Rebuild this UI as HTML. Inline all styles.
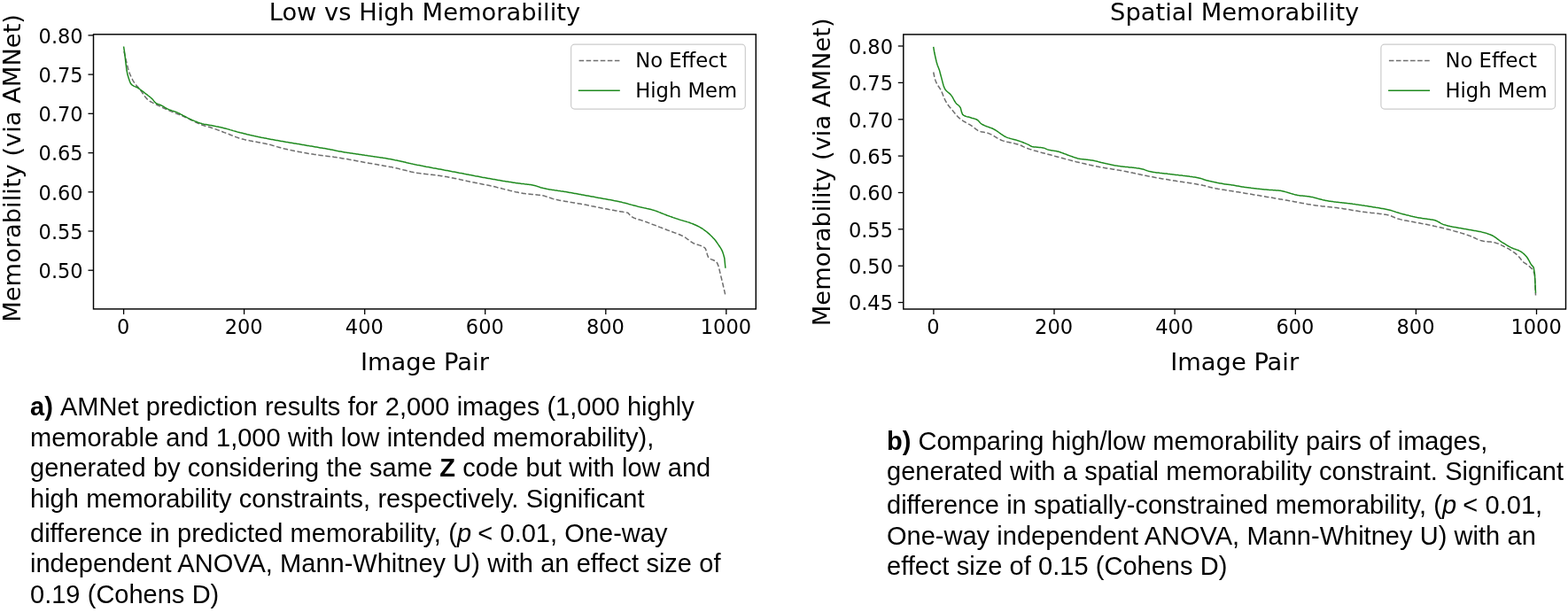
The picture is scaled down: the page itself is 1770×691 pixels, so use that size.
<!DOCTYPE html>
<html><head><meta charset="utf-8"><title>AMNet memorability figure</title>
<style>
html,body{margin:0;padding:0;background:#fff;}
body{width:1770px;height:691px;position:relative;overflow:hidden;}
svg{position:absolute;left:0;top:0;}
.tk{font-family:"DejaVu Sans",sans-serif;font-size:22.5px;fill:#000;}
.lg{font-family:"DejaVu Sans",sans-serif;font-size:22.7px;fill:#000;}
.lb{font-family:"DejaVu Sans",sans-serif;font-size:27.3px;fill:#000;}
.cap{position:absolute;white-space:nowrap;font-family:"Liberation Sans",Arial,Helvetica,sans-serif;font-size:29px;line-height:34px;color:#000;word-spacing:0.25px;}
.cap b{font-weight:bold;}
.rel{margin:0 2.6px 0 0.6px;}
.cap i{margin-right:0.8px;}
.sp{margin-right:-0.2px;}
</style></head><body>
<svg width="1770" height="440" viewBox="0 0 1770 440">
<polyline points="140.0,58.0 141.1,63.2 142.3,68.1 143.4,72.8 144.5,77.3 145.7,81.0 146.8,84.0 147.9,86.7 149.1,89.0 150.2,91.1 151.3,92.9 152.5,94.5 153.6,95.9 154.7,97.2 155.9,98.5 157.0,99.8 158.1,101.2 159.3,102.8 160.4,104.4 161.5,106.0 162.7,107.7 163.8,109.2 164.9,110.6 166.1,111.9 167.2,112.9 168.3,113.7 169.5,114.5 170.6,115.1 171.7,115.7 172.9,116.3 174.0,116.8 175.1,117.3 176.3,117.9 177.4,118.5 178.5,119.0 179.7,119.6 180.8,120.2 181.9,120.7 183.1,121.3 184.2,121.8 185.3,122.4 186.5,122.9 187.6,123.4 188.7,123.9 189.9,124.4 191.0,124.9 192.1,125.4 193.3,125.9 194.4,126.3 195.5,126.8 196.7,127.2 197.8,127.7 198.9,128.1 200.1,128.5 201.2,129.0 202.3,129.4 203.5,129.9 204.6,130.3 205.7,130.8 206.9,131.2 208.0,131.7 209.1,132.2 210.3,132.7 211.4,133.3 212.5,133.8 213.7,134.4 214.8,135.0 215.9,135.6 217.1,136.1 218.2,136.7 219.3,137.3 220.5,137.9 221.6,138.4 222.7,138.9 223.9,139.4 225.0,139.9 226.1,140.4 227.3,140.8 228.4,141.2 229.5,141.6 230.7,141.9 231.8,142.2 232.9,142.5 234.1,142.9 235.2,143.2 236.3,143.5 237.5,143.8 238.6,144.2 239.7,144.5 240.9,144.9 242.0,145.3 243.1,145.7 244.3,146.1 245.4,146.6 246.5,147.0 247.7,147.4 248.8,147.9 249.9,148.3 251.1,148.7 252.2,149.2 253.3,149.6 254.5,150.0 255.6,150.5 256.7,150.9 257.9,151.3 259.0,151.8 260.1,152.2 261.3,152.7 262.4,153.1 263.5,153.6 264.7,154.0 265.8,154.5 266.9,154.9 268.1,155.3 269.2,155.7 270.3,156.1 271.5,156.4 272.6,156.7 273.7,157.1 274.9,157.3 276.0,157.6 277.1,157.9 278.3,158.1 279.4,158.4 280.5,158.6 281.7,158.8 282.8,159.1 283.9,159.3 285.1,159.5 286.2,159.7 287.3,159.9 288.5,160.1 289.6,160.3 290.7,160.5 291.9,160.7 293.0,160.9 294.1,161.1 295.3,161.3 296.4,161.5 297.5,161.8 298.7,162.0 299.8,162.2 300.9,162.5 302.1,162.8 303.2,163.0 304.3,163.3 305.5,163.6 306.6,163.9 307.7,164.3 308.9,164.6 310.0,164.9 311.1,165.2 312.3,165.6 313.4,165.9 314.5,166.2 315.7,166.5 316.8,166.8 317.9,167.1 319.1,167.4 320.2,167.7 321.3,168.0 322.5,168.2 323.6,168.5 324.7,168.8 325.9,169.0 327.0,169.3 328.1,169.5 329.3,169.8 330.4,170.0 331.5,170.2 332.7,170.5 333.8,170.7 334.9,170.9 336.1,171.1 337.2,171.4 338.3,171.6 339.5,171.8 340.6,172.0 341.7,172.2 342.9,172.4 344.0,172.6 345.1,172.8 346.3,173.0 347.4,173.2 348.5,173.4 349.7,173.6 350.8,173.8 351.9,173.9 353.1,174.1 354.2,174.3 355.3,174.4 356.5,174.6 357.6,174.8 358.7,174.9 359.9,175.1 361.0,175.2 362.1,175.4 363.3,175.5 364.4,175.7 365.5,175.8 366.7,175.9 367.8,176.1 368.9,176.2 370.1,176.4 371.2,176.5 372.3,176.7 373.5,176.8 374.6,177.0 375.7,177.1 376.9,177.3 378.0,177.4 379.1,177.6 380.3,177.8 381.4,177.9 382.5,178.1 383.7,178.3 384.8,178.5 385.9,178.7 387.1,178.9 388.2,179.1 389.3,179.2 390.5,179.4 391.6,179.6 392.7,179.8 393.9,180.1 395.0,180.3 396.1,180.5 397.3,180.7 398.4,180.9 399.5,181.1 400.7,181.3 401.8,181.5 402.9,181.7 404.1,181.9 405.2,182.2 406.3,182.4 407.5,182.6 408.6,182.8 409.7,183.0 410.9,183.2 412.0,183.4 413.1,183.6 414.3,183.8 415.4,184.0 416.5,184.2 417.7,184.4 418.8,184.6 419.9,184.8 421.1,185.0 422.2,185.2 423.3,185.4 424.5,185.6 425.6,185.8 426.7,186.0 427.9,186.2 429.0,186.4 430.1,186.6 431.3,186.8 432.4,187.0 433.5,187.2 434.7,187.4 435.8,187.6 436.9,187.8 438.1,188.0 439.2,188.2 440.3,188.4 441.5,188.6 442.6,188.8 443.7,189.1 444.9,189.3 446.0,189.6 447.1,189.8 448.3,190.1 449.4,190.3 450.5,190.6 451.7,190.9 452.8,191.2 453.9,191.5 455.1,191.8 456.2,192.1 457.3,192.3 458.5,192.6 459.6,192.9 460.7,193.2 461.9,193.5 463.0,193.7 464.1,194.0 465.3,194.2 466.4,194.4 467.5,194.7 468.7,194.9 469.8,195.1 470.9,195.3 472.1,195.4 473.2,195.6 474.3,195.7 475.5,195.9 476.6,196.0 477.7,196.2 478.9,196.3 480.0,196.4 481.2,196.6 482.3,196.7 483.4,196.8 484.6,196.9 485.7,197.1 486.8,197.2 488.0,197.3 489.1,197.5 490.2,197.6 491.4,197.7 492.5,197.9 493.6,198.0 494.8,198.2 495.9,198.3 497.0,198.5 498.2,198.7 499.3,198.8 500.4,199.0 501.6,199.2 502.7,199.4 503.8,199.6 505.0,199.8 506.1,200.0 507.2,200.2 508.4,200.5 509.5,200.7 510.6,200.9 511.8,201.1 512.9,201.4 514.0,201.6 515.2,201.8 516.3,202.1 517.4,202.3 518.6,202.5 519.7,202.8 520.8,203.0 522.0,203.3 523.1,203.5 524.2,203.8 525.4,204.0 526.5,204.2 527.6,204.5 528.8,204.7 529.9,205.0 531.0,205.2 532.2,205.4 533.3,205.7 534.4,205.9 535.6,206.1 536.7,206.4 537.8,206.6 539.0,206.8 540.1,207.1 541.2,207.3 542.4,207.5 543.5,207.7 544.6,207.9 545.8,208.2 546.9,208.4 548.0,208.6 549.2,208.8 550.3,209.1 551.4,209.3 552.6,209.5 553.7,209.8 554.8,210.0 556.0,210.3 557.1,210.6 558.2,210.8 559.4,211.1 560.5,211.4 561.6,211.7 562.8,212.0 563.9,212.2 565.0,212.5 566.2,212.8 567.3,213.1 568.4,213.4 569.6,213.7 570.7,214.0 571.8,214.3 573.0,214.5 574.1,214.8 575.2,215.1 576.4,215.4 577.5,215.6 578.6,215.9 579.8,216.2 580.9,216.4 582.0,216.7 583.2,216.9 584.3,217.1 585.4,217.4 586.6,217.6 587.7,217.8 588.8,218.0 590.0,218.2 591.1,218.4 592.2,218.5 593.4,218.7 594.5,218.8 595.6,219.0 596.8,219.1 597.9,219.2 599.0,219.3 600.2,219.4 601.3,219.5 602.4,219.6 603.6,219.7 604.7,219.8 605.8,219.9 607.0,220.1 608.1,220.2 609.2,220.3 610.4,220.5 611.5,220.7 612.6,220.8 613.8,221.1 614.9,221.4 616.0,221.7 617.2,222.1 618.3,222.4 619.4,222.8 620.6,223.2 621.7,223.6 622.8,224.0 624.0,224.4 625.1,224.7 626.2,225.0 627.4,225.2 628.5,225.5 629.6,225.7 630.8,226.0 631.9,226.2 633.0,226.4 634.2,226.6 635.3,226.8 636.4,227.0 637.6,227.2 638.7,227.4 639.8,227.6 641.0,227.8 642.1,228.0 643.2,228.2 644.4,228.4 645.5,228.6 646.6,228.7 647.8,228.9 648.9,229.1 650.0,229.3 651.2,229.5 652.3,229.7 653.4,229.9 654.6,230.1 655.7,230.3 656.8,230.5 658.0,230.7 659.1,230.9 660.2,231.1 661.4,231.3 662.5,231.5 663.6,231.7 664.8,232.0 665.9,232.2 667.0,232.4 668.2,232.7 669.3,232.9 670.4,233.1 671.6,233.4 672.7,233.6 673.8,233.8 675.0,234.1 676.1,234.3 677.2,234.5 678.4,234.7 679.5,235.0 680.6,235.2 681.8,235.4 682.9,235.6 684.0,235.8 685.2,236.0 686.3,236.2 687.4,236.5 688.6,236.7 689.7,236.9 690.8,237.1 692.0,237.3 693.1,237.5 694.2,237.7 695.4,237.9 696.5,238.1 697.6,238.3 698.8,238.6 699.9,238.8 701.0,239.0 702.2,239.1 703.3,239.3 704.4,239.4 705.6,239.6 706.7,239.8 707.8,240.1 709.0,240.5 710.1,241.6 711.2,243.4 712.4,244.2 713.5,244.9 714.6,245.5 715.8,246.1 716.9,246.5 718.0,247.0 719.2,247.3 720.3,247.7 721.4,248.0 722.6,248.3 723.7,248.6 724.8,249.0 726.0,249.3 727.1,249.7 728.2,250.1 729.4,250.5 730.5,251.0 731.6,251.4 732.8,251.9 733.9,252.3 735.0,252.7 736.2,253.2 737.3,253.6 738.4,254.0 739.6,254.4 740.7,254.9 741.8,255.3 743.0,255.7 744.1,256.2 745.2,256.6 746.4,257.0 747.5,257.5 748.6,257.9 749.8,258.4 750.9,258.8 752.0,259.2 753.2,259.7 754.3,260.1 755.4,260.5 756.6,261.0 757.7,261.4 758.8,261.8 760.0,262.2 761.1,262.6 762.2,263.0 763.4,263.4 764.5,263.9 765.6,264.3 766.8,264.8 767.9,265.3 769.0,265.8 770.2,266.3 771.3,266.9 772.4,267.5 773.6,268.2 774.7,269.0 775.8,269.8 777.0,270.6 778.1,271.5 779.2,272.3 780.4,273.1 781.5,273.9 782.6,274.5 783.8,275.1 784.9,275.5 786.0,275.9 787.2,276.2 788.3,276.5 789.4,276.9 790.6,277.2 791.7,277.6 792.8,278.1 794.0,278.7 795.1,279.5 796.2,280.5 797.4,283.5 798.5,287.7 799.6,290.5 800.8,291.6 801.9,292.4 803.0,292.9 804.2,293.3 805.3,293.7 806.4,294.2 807.6,294.9 808.7,295.8 809.8,297.4 811.0,300.5 812.1,304.7 813.2,309.5 814.4,314.3 815.5,318.8 816.6,323.5 817.8,328.6 818.9,333.8" fill="none" stroke="#6e6e6e" stroke-width="1.5" stroke-dasharray="5.55 2.5"/>
<polyline points="139.6,52.5 140.7,59.8 141.9,70.3 143.0,79.5 144.1,84.6 145.3,88.4 146.4,91.8 147.5,94.3 148.7,95.6 149.8,96.4 150.9,97.1 152.1,97.6 153.2,98.0 154.3,98.5 155.5,99.2 156.6,99.9 157.7,100.7 158.9,101.5 160.0,102.4 161.1,103.2 162.3,104.1 163.4,105.0 164.5,105.9 165.7,106.7 166.8,107.6 168.0,108.5 169.1,109.3 170.2,110.3 171.4,111.3 172.5,112.4 173.6,113.9 174.8,115.3 175.9,116.3 177.0,117.0 178.2,117.5 179.3,117.9 180.4,118.3 181.6,118.8 182.7,119.3 183.8,119.9 185.0,120.6 186.1,121.3 187.2,122.0 188.4,122.6 189.5,123.2 190.6,123.7 191.8,124.1 192.9,124.5 194.0,124.9 195.2,125.3 196.3,125.6 197.4,126.0 198.6,126.4 199.7,126.9 200.8,127.4 202.0,127.9 203.1,128.5 204.2,129.1 205.4,129.7 206.5,130.3 207.6,130.9 208.8,131.5 209.9,132.1 211.0,132.7 212.2,133.3 213.3,133.9 214.4,134.4 215.6,135.0 216.7,135.5 217.8,135.9 219.0,136.4 220.1,136.9 221.3,137.3 222.4,137.8 223.5,138.2 224.7,138.6 225.8,139.0 226.9,139.3 228.1,139.7 229.2,139.9 230.3,140.2 231.5,140.4 232.6,140.6 233.7,140.8 234.9,141.0 236.0,141.2 237.1,141.4 238.3,141.6 239.4,141.8 240.5,142.0 241.7,142.2 242.8,142.4 243.9,142.7 245.1,142.9 246.2,143.1 247.3,143.4 248.5,143.6 249.6,143.9 250.7,144.1 251.9,144.4 253.0,144.7 254.1,145.0 255.3,145.3 256.4,145.6 257.5,145.9 258.7,146.2 259.8,146.6 260.9,146.9 262.1,147.2 263.2,147.6 264.3,147.9 265.5,148.2 266.6,148.5 267.7,148.9 268.9,149.2 270.0,149.5 271.2,149.8 272.3,150.0 273.4,150.3 274.6,150.6 275.7,150.9 276.8,151.1 278.0,151.4 279.1,151.7 280.2,151.9 281.4,152.2 282.5,152.5 283.6,152.7 284.8,153.0 285.9,153.2 287.0,153.5 288.2,153.7 289.3,154.0 290.4,154.2 291.6,154.5 292.7,154.7 293.8,154.9 295.0,155.2 296.1,155.4 297.2,155.6 298.4,155.9 299.5,156.1 300.6,156.3 301.8,156.6 302.9,156.8 304.0,157.0 305.2,157.2 306.3,157.4 307.4,157.6 308.6,157.8 309.7,158.0 310.8,158.2 312.0,158.4 313.1,158.6 314.2,158.8 315.4,159.0 316.5,159.2 317.6,159.4 318.8,159.6 319.9,159.8 321.0,160.0 322.2,160.2 323.3,160.4 324.5,160.6 325.6,160.8 326.7,161.0 327.9,161.2 329.0,161.3 330.1,161.5 331.3,161.7 332.4,161.9 333.5,162.1 334.7,162.3 335.8,162.5 336.9,162.6 338.1,162.8 339.2,163.0 340.3,163.2 341.5,163.4 342.6,163.6 343.7,163.8 344.9,164.0 346.0,164.2 347.1,164.4 348.3,164.6 349.4,164.8 350.5,164.9 351.7,165.1 352.8,165.3 353.9,165.5 355.1,165.7 356.2,165.9 357.3,166.1 358.5,166.3 359.6,166.5 360.7,166.7 361.9,166.9 363.0,167.0 364.1,167.2 365.3,167.4 366.4,167.6 367.5,167.8 368.7,168.0 369.8,168.2 370.9,168.4 372.1,168.6 373.2,168.9 374.3,169.1 375.5,169.3 376.6,169.5 377.8,169.7 378.9,170.0 380.0,170.2 381.2,170.5 382.3,170.7 383.4,170.9 384.6,171.1 385.7,171.3 386.8,171.5 388.0,171.7 389.1,171.9 390.2,172.1 391.4,172.2 392.5,172.4 393.6,172.6 394.8,172.8 395.9,173.0 397.0,173.1 398.2,173.3 399.3,173.5 400.4,173.6 401.6,173.8 402.7,174.0 403.8,174.1 405.0,174.3 406.1,174.5 407.2,174.6 408.4,174.8 409.5,175.0 410.6,175.1 411.8,175.3 412.9,175.4 414.0,175.6 415.2,175.8 416.3,175.9 417.4,176.1 418.6,176.2 419.7,176.4 420.8,176.6 422.0,176.7 423.1,176.9 424.2,177.1 425.4,177.2 426.5,177.4 427.7,177.6 428.8,177.7 429.9,177.9 431.1,178.1 432.2,178.3 433.3,178.5 434.5,178.6 435.6,178.8 436.7,179.0 437.9,179.2 439.0,179.4 440.1,179.6 441.3,179.8 442.4,180.0 443.5,180.2 444.7,180.4 445.8,180.7 446.9,180.9 448.1,181.1 449.2,181.4 450.3,181.6 451.5,181.9 452.6,182.1 453.7,182.4 454.9,182.6 456.0,182.9 457.1,183.1 458.3,183.4 459.4,183.7 460.5,183.9 461.7,184.2 462.8,184.4 463.9,184.7 465.1,184.9 466.2,185.2 467.3,185.4 468.5,185.7 469.6,185.9 470.7,186.2 471.9,186.4 473.0,186.6 474.1,186.8 475.3,187.1 476.4,187.3 477.5,187.5 478.7,187.7 479.8,187.9 481.0,188.2 482.1,188.4 483.2,188.6 484.4,188.8 485.5,189.0 486.6,189.2 487.8,189.4 488.9,189.7 490.0,189.9 491.2,190.1 492.3,190.3 493.4,190.5 494.6,190.7 495.7,190.9 496.8,191.1 498.0,191.3 499.1,191.5 500.2,191.7 501.4,192.0 502.5,192.2 503.6,192.4 504.8,192.6 505.9,192.8 507.0,193.0 508.2,193.2 509.3,193.4 510.4,193.7 511.6,193.9 512.7,194.1 513.8,194.3 515.0,194.5 516.1,194.7 517.2,194.9 518.4,195.2 519.5,195.4 520.6,195.6 521.8,195.8 522.9,196.0 524.0,196.3 525.2,196.5 526.3,196.7 527.4,196.9 528.6,197.1 529.7,197.4 530.8,197.6 532.0,197.8 533.1,198.0 534.3,198.2 535.4,198.4 536.5,198.7 537.7,198.9 538.8,199.1 539.9,199.3 541.1,199.5 542.2,199.7 543.3,199.9 544.5,200.2 545.6,200.4 546.7,200.6 547.9,200.8 549.0,201.0 550.1,201.2 551.3,201.4 552.4,201.6 553.5,201.8 554.7,202.0 555.8,202.2 556.9,202.4 558.1,202.6 559.2,202.8 560.3,203.0 561.5,203.2 562.6,203.4 563.7,203.6 564.9,203.8 566.0,204.0 567.1,204.2 568.3,204.4 569.4,204.5 570.5,204.7 571.7,204.9 572.8,205.1 573.9,205.3 575.1,205.5 576.2,205.6 577.3,205.8 578.5,206.0 579.6,206.2 580.7,206.3 581.9,206.5 583.0,206.7 584.2,206.8 585.3,207.0 586.4,207.1 587.6,207.2 588.7,207.4 589.8,207.5 591.0,207.6 592.1,207.8 593.2,207.9 594.4,208.0 595.5,208.2 596.6,208.3 597.8,208.4 598.9,208.6 600.0,208.8 601.2,209.0 602.3,209.2 603.4,209.4 604.6,209.7 605.7,210.1 606.8,210.5 608.0,210.9 609.1,211.3 610.2,211.7 611.4,212.0 612.5,212.3 613.6,212.6 614.8,212.8 615.9,213.0 617.0,213.3 618.2,213.5 619.3,213.7 620.4,213.9 621.6,214.1 622.7,214.2 623.8,214.4 625.0,214.6 626.1,214.8 627.2,214.9 628.4,215.1 629.5,215.3 630.6,215.4 631.8,215.6 632.9,215.8 634.0,215.9 635.2,216.1 636.3,216.3 637.5,216.5 638.6,216.6 639.7,216.8 640.9,217.0 642.0,217.2 643.1,217.4 644.3,217.6 645.4,217.8 646.5,218.0 647.7,218.2 648.8,218.4 649.9,218.6 651.1,218.8 652.2,219.0 653.3,219.2 654.5,219.4 655.6,219.6 656.7,219.9 657.9,220.1 659.0,220.3 660.1,220.5 661.3,220.7 662.4,220.9 663.5,221.1 664.7,221.3 665.8,221.5 666.9,221.7 668.1,221.9 669.2,222.1 670.3,222.3 671.5,222.5 672.6,222.8 673.7,223.0 674.9,223.2 676.0,223.4 677.1,223.6 678.3,223.8 679.4,224.0 680.5,224.2 681.7,224.4 682.8,224.6 683.9,224.8 685.1,225.0 686.2,225.2 687.3,225.4 688.5,225.6 689.6,225.8 690.8,226.0 691.9,226.2 693.0,226.5 694.2,226.7 695.3,226.9 696.4,227.1 697.6,227.4 698.7,227.6 699.8,227.9 701.0,228.1 702.1,228.4 703.2,228.7 704.4,228.9 705.5,229.2 706.6,229.5 707.8,229.8 708.9,230.1 710.0,230.5 711.2,230.8 712.3,231.1 713.4,231.4 714.6,231.7 715.7,232.0 716.8,232.3 718.0,232.6 719.1,232.9 720.2,233.2 721.4,233.4 722.5,233.7 723.6,233.9 724.8,234.2 725.9,234.4 727.0,234.7 728.2,234.9 729.3,235.2 730.4,235.5 731.6,235.7 732.7,236.0 733.8,236.3 735.0,236.6 736.1,236.9 737.2,237.2 738.4,237.5 739.5,237.9 740.7,238.3 741.8,238.7 742.9,239.1 744.1,239.6 745.2,240.0 746.3,240.5 747.5,241.0 748.6,241.4 749.7,241.9 750.9,242.3 752.0,242.7 753.1,243.2 754.3,243.6 755.4,244.0 756.5,244.4 757.7,244.8 758.8,245.2 759.9,245.6 761.1,246.0 762.2,246.4 763.3,246.8 764.5,247.1 765.6,247.5 766.7,247.9 767.9,248.3 769.0,248.6 770.1,248.9 771.3,249.3 772.4,249.6 773.5,249.9 774.7,250.2 775.8,250.6 776.9,250.9 778.1,251.3 779.2,251.7 780.3,252.1 781.5,252.5 782.6,253.0 783.7,253.5 784.9,254.0 786.0,254.5 787.1,255.0 788.3,255.6 789.4,256.2 790.5,256.8 791.7,257.5 792.8,258.2 794.0,259.0 795.1,259.8 796.2,260.6 797.4,261.5 798.5,262.4 799.6,263.4 800.8,264.4 801.9,265.5 803.0,266.5 804.2,267.7 805.3,268.9 806.4,270.1 807.6,271.5 808.7,273.0 809.8,274.6 811.0,276.3 812.1,278.0 813.2,279.7 814.4,281.6 815.5,283.9 816.6,287.1 817.8,291.5 818.9,302.8" fill="none" stroke="#1f8a1f" stroke-width="1.5"/>
<rect x="105.5" y="38.8" width="747.8" height="310.1" fill="none" stroke="#000" stroke-width="1.45"/>
<line x1="139.6" y1="348.9" x2="139.6" y2="354.9" stroke="#000" stroke-width="1.3"/>
<text x="139.2" y="376.9" text-anchor="middle" class="tk">0</text>
<line x1="275.6" y1="348.9" x2="275.6" y2="354.9" stroke="#000" stroke-width="1.3"/>
<text x="275.2" y="376.9" text-anchor="middle" class="tk">200</text>
<line x1="411.7" y1="348.9" x2="411.7" y2="354.9" stroke="#000" stroke-width="1.3"/>
<text x="411.3" y="376.9" text-anchor="middle" class="tk">400</text>
<line x1="547.7" y1="348.9" x2="547.7" y2="354.9" stroke="#000" stroke-width="1.3"/>
<text x="547.3" y="376.9" text-anchor="middle" class="tk">600</text>
<line x1="683.8" y1="348.9" x2="683.8" y2="354.9" stroke="#000" stroke-width="1.3"/>
<text x="683.4" y="376.9" text-anchor="middle" class="tk">800</text>
<line x1="819.8" y1="348.9" x2="819.8" y2="354.9" stroke="#000" stroke-width="1.3"/>
<text x="819.4" y="376.9" text-anchor="middle" class="tk">1000</text>
<line x1="99.5" y1="39.9" x2="105.5" y2="39.9" stroke="#000" stroke-width="1.3"/>
<text x="93.7" y="48.6" text-anchor="end" class="tk">0.80</text>
<line x1="99.5" y1="84.1" x2="105.5" y2="84.1" stroke="#000" stroke-width="1.3"/>
<text x="93.7" y="92.8" text-anchor="end" class="tk">0.75</text>
<line x1="99.5" y1="128.3" x2="105.5" y2="128.3" stroke="#000" stroke-width="1.3"/>
<text x="93.7" y="137.0" text-anchor="end" class="tk">0.70</text>
<line x1="99.5" y1="172.6" x2="105.5" y2="172.6" stroke="#000" stroke-width="1.3"/>
<text x="93.7" y="181.3" text-anchor="end" class="tk">0.65</text>
<line x1="99.5" y1="216.8" x2="105.5" y2="216.8" stroke="#000" stroke-width="1.3"/>
<text x="93.7" y="225.5" text-anchor="end" class="tk">0.60</text>
<line x1="99.5" y1="261.0" x2="105.5" y2="261.0" stroke="#000" stroke-width="1.3"/>
<text x="93.7" y="269.7" text-anchor="end" class="tk">0.55</text>
<line x1="99.5" y1="305.2" x2="105.5" y2="305.2" stroke="#000" stroke-width="1.3"/>
<text x="93.7" y="313.9" text-anchor="end" class="tk">0.50</text>
<text x="479.4" y="22.5" text-anchor="middle" class="lb">Low vs High Memorability</text>
<text x="479.4" y="418.1" text-anchor="middle" class="lb">Image Pair</text>
<text transform="translate(23.1,189.9) rotate(-90)" x="0" y="0" text-anchor="middle" class="lb">Memorability (via AMNet)</text>
<rect x="644.6" y="50.2" width="196.7" height="72.9" rx="4" fill="#fff" fill-opacity="0.8" stroke="#cccccc" stroke-width="1.2"/>
<line x1="653.6" y1="68.5" x2="699.6" y2="68.5" stroke="#6e6e6e" stroke-width="1.5" stroke-dasharray="5.55 2.5"/>
<line x1="652.8" y1="102.2" x2="699.8" y2="102.2" stroke="#1f8a1f" stroke-width="1.6"/>
<text x="717.2" y="76.4" class="lg">No Effect</text>
<text x="717.2" y="109.7" class="lg">High Mem</text>
<polyline points="1053.7,81.5 1054.8,86.7 1056.0,91.0 1057.1,93.7 1058.2,95.8 1059.4,97.5 1060.5,99.2 1061.6,100.9 1062.8,103.1 1063.9,105.8 1065.0,108.7 1066.2,111.5 1067.3,114.0 1068.5,115.9 1069.6,117.6 1070.7,119.2 1071.9,120.7 1073.0,122.0 1074.1,123.4 1075.3,124.7 1076.4,126.1 1077.5,127.5 1078.7,128.9 1079.8,130.2 1080.9,131.5 1082.1,132.6 1083.2,133.6 1084.3,134.5 1085.5,135.3 1086.6,136.1 1087.7,136.8 1088.9,137.5 1090.0,138.2 1091.2,138.8 1092.3,139.4 1093.4,140.1 1094.6,140.7 1095.7,141.4 1096.8,142.1 1098.0,142.9 1099.1,143.8 1100.2,144.7 1101.4,145.6 1102.5,146.5 1103.6,147.2 1104.8,147.9 1105.9,148.3 1107.0,148.6 1108.2,148.9 1109.3,149.1 1110.4,149.3 1111.6,149.5 1112.7,149.7 1113.8,149.9 1115.0,150.2 1116.1,150.6 1117.3,151.1 1118.4,151.7 1119.5,152.2 1120.7,152.9 1121.8,153.5 1122.9,154.2 1124.1,154.9 1125.2,155.6 1126.3,156.2 1127.5,156.9 1128.6,157.4 1129.7,158.0 1130.9,158.5 1132.0,158.9 1133.1,159.2 1134.3,159.5 1135.4,159.8 1136.5,160.1 1137.7,160.4 1138.8,160.6 1140.0,160.9 1141.1,161.1 1142.2,161.3 1143.4,161.6 1144.5,161.8 1145.6,162.1 1146.8,162.4 1147.9,162.7 1149.0,163.0 1150.2,163.4 1151.3,163.9 1152.4,164.3 1153.6,164.8 1154.7,165.4 1155.8,165.9 1157.0,166.4 1158.1,166.9 1159.2,167.3 1160.4,167.7 1161.5,168.1 1162.6,168.5 1163.8,168.8 1164.9,169.2 1166.1,169.5 1167.2,169.9 1168.3,170.2 1169.5,170.5 1170.6,170.8 1171.7,171.1 1172.9,171.4 1174.0,171.8 1175.1,172.1 1176.3,172.4 1177.4,172.7 1178.5,173.0 1179.7,173.3 1180.8,173.6 1181.9,173.9 1183.1,174.2 1184.2,174.5 1185.3,174.8 1186.5,175.1 1187.6,175.4 1188.8,175.7 1189.9,176.1 1191.0,176.4 1192.2,176.7 1193.3,177.0 1194.4,177.3 1195.6,177.6 1196.7,177.9 1197.8,178.2 1199.0,178.5 1200.1,178.8 1201.2,179.1 1202.4,179.4 1203.5,179.7 1204.6,180.0 1205.8,180.3 1206.9,180.6 1208.0,180.9 1209.2,181.2 1210.3,181.5 1211.4,181.8 1212.6,182.1 1213.7,182.4 1214.9,182.7 1216.0,182.9 1217.1,183.2 1218.3,183.5 1219.4,183.8 1220.5,184.0 1221.7,184.3 1222.8,184.6 1223.9,184.8 1225.1,185.1 1226.2,185.4 1227.3,185.6 1228.5,185.9 1229.6,186.1 1230.7,186.4 1231.9,186.6 1233.0,186.9 1234.1,187.1 1235.3,187.4 1236.4,187.6 1237.6,187.8 1238.7,188.1 1239.8,188.3 1241.0,188.5 1242.1,188.7 1243.2,188.9 1244.4,189.1 1245.5,189.3 1246.6,189.5 1247.8,189.7 1248.9,189.9 1250.0,190.1 1251.2,190.3 1252.3,190.5 1253.4,190.6 1254.6,190.8 1255.7,191.0 1256.8,191.2 1258.0,191.3 1259.1,191.5 1260.3,191.7 1261.4,191.9 1262.5,192.1 1263.7,192.2 1264.8,192.4 1265.9,192.6 1267.1,192.8 1268.2,193.0 1269.3,193.3 1270.5,193.5 1271.6,193.7 1272.7,193.9 1273.9,194.2 1275.0,194.4 1276.1,194.6 1277.3,194.9 1278.4,195.1 1279.5,195.4 1280.7,195.6 1281.8,195.9 1282.9,196.1 1284.1,196.4 1285.2,196.6 1286.4,196.9 1287.5,197.1 1288.6,197.4 1289.8,197.6 1290.9,197.9 1292.0,198.1 1293.2,198.3 1294.3,198.5 1295.4,198.8 1296.6,199.0 1297.7,199.2 1298.8,199.4 1300.0,199.6 1301.1,199.8 1302.2,200.0 1303.4,200.3 1304.5,200.5 1305.6,200.7 1306.8,200.9 1307.9,201.1 1309.1,201.3 1310.2,201.5 1311.3,201.7 1312.5,201.9 1313.6,202.1 1314.7,202.2 1315.9,202.4 1317.0,202.6 1318.1,202.8 1319.3,203.0 1320.4,203.2 1321.5,203.4 1322.7,203.6 1323.8,203.8 1324.9,204.0 1326.1,204.1 1327.2,204.3 1328.3,204.5 1329.5,204.7 1330.6,204.8 1331.7,205.0 1332.9,205.2 1334.0,205.3 1335.2,205.5 1336.3,205.7 1337.4,205.8 1338.6,206.0 1339.7,206.2 1340.8,206.3 1342.0,206.5 1343.1,206.7 1344.2,206.8 1345.4,207.0 1346.5,207.2 1347.6,207.4 1348.8,207.6 1349.9,207.8 1351.0,208.0 1352.2,208.2 1353.3,208.4 1354.4,208.6 1355.6,208.8 1356.7,209.0 1357.9,209.3 1359.0,209.5 1360.1,209.8 1361.3,210.1 1362.4,210.4 1363.5,210.7 1364.7,211.0 1365.8,211.4 1366.9,211.6 1368.1,211.9 1369.2,212.2 1370.3,212.4 1371.5,212.6 1372.6,212.9 1373.7,213.1 1374.9,213.3 1376.0,213.4 1377.1,213.6 1378.3,213.8 1379.4,214.0 1380.5,214.2 1381.7,214.3 1382.8,214.5 1384.0,214.7 1385.1,214.8 1386.2,215.0 1387.4,215.2 1388.5,215.4 1389.6,215.5 1390.8,215.7 1391.9,215.9 1393.0,216.1 1394.2,216.3 1395.3,216.5 1396.4,216.7 1397.6,216.8 1398.7,217.0 1399.8,217.2 1401.0,217.4 1402.1,217.6 1403.2,217.8 1404.4,218.0 1405.5,218.2 1406.7,218.4 1407.8,218.5 1408.9,218.7 1410.1,218.9 1411.2,219.1 1412.3,219.3 1413.5,219.5 1414.6,219.7 1415.7,219.9 1416.9,220.1 1418.0,220.2 1419.1,220.4 1420.3,220.6 1421.4,220.8 1422.5,221.0 1423.7,221.2 1424.8,221.4 1425.9,221.6 1427.1,221.8 1428.2,222.0 1429.3,222.2 1430.5,222.4 1431.6,222.6 1432.8,222.8 1433.9,222.9 1435.0,223.1 1436.2,223.3 1437.3,223.5 1438.4,223.7 1439.6,223.9 1440.7,224.1 1441.8,224.3 1443.0,224.5 1444.1,224.7 1445.2,224.9 1446.4,225.1 1447.5,225.3 1448.6,225.5 1449.8,225.7 1450.9,225.9 1452.0,226.1 1453.2,226.3 1454.3,226.5 1455.5,226.7 1456.6,226.9 1457.7,227.1 1458.9,227.3 1460.0,227.5 1461.1,227.7 1462.3,227.9 1463.4,228.1 1464.5,228.3 1465.7,228.5 1466.8,228.8 1467.9,229.0 1469.1,229.2 1470.2,229.4 1471.3,229.6 1472.5,229.8 1473.6,230.0 1474.7,230.2 1475.9,230.5 1477.0,230.7 1478.1,230.8 1479.3,231.0 1480.4,231.2 1481.6,231.4 1482.7,231.6 1483.8,231.7 1485.0,231.9 1486.1,232.1 1487.2,232.2 1488.4,232.4 1489.5,232.5 1490.6,232.6 1491.8,232.8 1492.9,232.9 1494.0,233.0 1495.2,233.1 1496.3,233.2 1497.4,233.4 1498.6,233.5 1499.7,233.6 1500.8,233.7 1502.0,233.8 1503.1,234.0 1504.3,234.1 1505.4,234.2 1506.5,234.3 1507.7,234.5 1508.8,234.6 1509.9,234.7 1511.1,234.9 1512.2,235.0 1513.3,235.2 1514.5,235.3 1515.6,235.5 1516.7,235.7 1517.9,235.9 1519.0,236.0 1520.1,236.2 1521.3,236.4 1522.4,236.6 1523.5,236.8 1524.7,237.0 1525.8,237.2 1526.9,237.4 1528.1,237.5 1529.2,237.7 1530.4,237.9 1531.5,238.1 1532.6,238.3 1533.8,238.5 1534.9,238.7 1536.0,238.8 1537.2,239.0 1538.3,239.2 1539.4,239.3 1540.6,239.5 1541.7,239.6 1542.8,239.8 1544.0,239.9 1545.1,240.0 1546.2,240.1 1547.4,240.3 1548.5,240.4 1549.6,240.5 1550.8,240.6 1551.9,240.7 1553.1,240.8 1554.2,241.0 1555.3,241.1 1556.5,241.2 1557.6,241.4 1558.7,241.5 1559.9,241.6 1561.0,241.8 1562.1,242.0 1563.3,242.2 1564.4,242.3 1565.5,242.6 1566.7,242.8 1567.8,243.1 1568.9,243.4 1570.1,243.8 1571.2,244.2 1572.3,244.7 1573.5,245.2 1574.6,245.7 1575.8,246.1 1576.9,246.6 1578.0,247.0 1579.2,247.3 1580.3,247.6 1581.4,247.9 1582.6,248.2 1583.7,248.4 1584.8,248.7 1586.0,248.9 1587.1,249.1 1588.2,249.3 1589.4,249.5 1590.5,249.7 1591.6,249.9 1592.8,250.1 1593.9,250.3 1595.0,250.5 1596.2,250.7 1597.3,251.0 1598.4,251.2 1599.6,251.4 1600.7,251.6 1601.9,251.8 1603.0,252.0 1604.1,252.3 1605.3,252.5 1606.4,252.7 1607.5,252.9 1608.7,253.1 1609.8,253.3 1610.9,253.5 1612.1,253.8 1613.2,254.0 1614.3,254.2 1615.5,254.4 1616.6,254.7 1617.7,254.9 1618.9,255.2 1620.0,255.4 1621.1,255.7 1622.3,255.9 1623.4,256.2 1624.6,256.4 1625.7,256.7 1626.8,257.0 1628.0,257.3 1629.1,257.6 1630.2,257.8 1631.4,258.1 1632.5,258.4 1633.6,258.7 1634.8,259.0 1635.9,259.3 1637.0,259.6 1638.2,259.9 1639.3,260.2 1640.4,260.5 1641.6,260.9 1642.7,261.2 1643.8,261.5 1645.0,261.8 1646.1,262.1 1647.2,262.5 1648.4,262.8 1649.5,263.1 1650.7,263.5 1651.8,263.8 1652.9,264.2 1654.1,264.5 1655.2,264.9 1656.3,265.3 1657.5,265.7 1658.6,266.1 1659.7,266.5 1660.9,267.0 1662.0,267.5 1663.1,268.0 1664.3,268.5 1665.4,269.0 1666.5,269.6 1667.7,270.1 1668.8,270.5 1669.9,271.0 1671.1,271.4 1672.2,271.7 1673.4,272.0 1674.5,272.3 1675.6,272.5 1676.8,272.6 1677.9,272.7 1679.0,272.8 1680.2,272.9 1681.3,273.0 1682.4,273.1 1683.6,273.3 1684.7,273.4 1685.8,273.6 1687.0,273.8 1688.1,274.1 1689.2,274.5 1690.4,274.9 1691.5,275.3 1692.6,275.8 1693.8,276.3 1694.9,276.9 1696.0,277.4 1697.2,278.0 1698.3,278.6 1699.5,279.1 1700.6,279.7 1701.7,280.3 1702.9,280.9 1704.0,281.6 1705.1,282.3 1706.3,283.0 1707.4,283.8 1708.5,284.6 1709.7,285.4 1710.8,286.3 1711.9,287.2 1713.1,288.2 1714.2,289.5 1715.3,290.8 1716.5,292.3 1717.6,293.7 1718.7,295.0 1719.9,296.1 1721.0,297.0 1722.2,297.7 1723.3,298.4 1724.4,299.1 1725.6,300.0 1726.7,301.0 1727.8,302.1 1729.0,303.1 1730.1,304.5 1731.2,306.7 1732.4,310.4 1733.5,333.5" fill="none" stroke="#6e6e6e" stroke-width="1.5" stroke-dasharray="5.55 2.5"/>
<polyline points="1053.7,52.8 1054.8,59.5 1056.0,65.0 1057.1,69.7 1058.2,73.5 1059.4,76.4 1060.5,79.4 1061.6,83.7 1062.8,88.1 1063.9,92.4 1065.0,96.4 1066.2,99.6 1067.3,101.5 1068.5,102.8 1069.6,103.8 1070.7,104.7 1071.9,105.6 1073.0,106.7 1074.1,108.1 1075.3,109.9 1076.4,112.0 1077.5,114.0 1078.7,115.9 1079.8,117.2 1080.9,118.2 1082.1,119.0 1083.2,120.1 1084.3,121.8 1085.5,126.6 1086.6,129.2 1087.7,130.1 1088.9,130.8 1090.0,131.2 1091.2,131.6 1092.3,131.9 1093.4,132.1 1094.6,132.4 1095.7,132.8 1096.8,133.2 1098.0,133.5 1099.1,133.8 1100.2,134.1 1101.4,134.5 1102.5,135.0 1103.6,135.6 1104.8,136.7 1105.9,138.1 1107.0,139.3 1108.2,140.1 1109.3,140.8 1110.4,141.3 1111.6,141.9 1112.7,142.3 1113.8,142.7 1115.0,143.1 1116.1,143.5 1117.3,144.0 1118.4,144.4 1119.5,144.8 1120.7,145.3 1121.8,145.9 1122.9,146.5 1124.1,147.2 1125.2,148.0 1126.3,148.7 1127.5,149.5 1128.6,150.3 1129.7,151.1 1130.9,151.9 1132.0,152.6 1133.1,153.3 1134.3,154.0 1135.4,154.6 1136.5,155.1 1137.7,155.6 1138.8,155.9 1140.0,156.3 1141.1,156.6 1142.2,156.9 1143.4,157.2 1144.5,157.5 1145.6,157.8 1146.8,158.1 1147.9,158.4 1149.0,158.7 1150.2,159.1 1151.3,159.5 1152.4,159.9 1153.6,160.3 1154.7,160.7 1155.8,161.2 1157.0,161.6 1158.1,162.1 1159.2,162.6 1160.4,163.1 1161.5,163.7 1162.6,164.4 1163.8,165.0 1164.9,165.5 1166.1,165.7 1167.2,165.9 1168.3,166.0 1169.5,166.1 1170.6,166.2 1171.7,166.3 1172.9,166.4 1174.0,166.4 1175.1,166.6 1176.3,166.7 1177.4,166.9 1178.5,167.1 1179.7,167.6 1180.8,168.1 1181.9,168.6 1183.1,169.0 1184.2,169.3 1185.3,169.5 1186.5,169.7 1187.6,169.9 1188.8,170.1 1189.9,170.2 1191.0,170.4 1192.2,170.6 1193.3,170.9 1194.4,171.1 1195.6,171.4 1196.7,171.8 1197.8,172.2 1199.0,172.6 1200.1,173.0 1201.2,173.5 1202.4,173.9 1203.5,174.3 1204.6,174.8 1205.8,175.2 1206.9,175.6 1208.0,176.0 1209.2,176.4 1210.3,176.8 1211.4,177.2 1212.6,177.6 1213.7,178.0 1214.9,178.3 1216.0,178.7 1217.1,179.0 1218.3,179.2 1219.4,179.4 1220.5,179.6 1221.7,179.7 1222.8,179.8 1223.9,180.0 1225.1,180.1 1226.2,180.2 1227.3,180.3 1228.5,180.4 1229.6,180.6 1230.7,180.7 1231.9,180.9 1233.0,181.1 1234.1,181.3 1235.3,181.5 1236.4,181.8 1237.6,182.0 1238.7,182.3 1239.8,182.6 1241.0,182.9 1242.1,183.2 1243.2,183.5 1244.4,183.7 1245.5,184.0 1246.6,184.3 1247.8,184.5 1248.9,184.8 1250.0,185.0 1251.2,185.3 1252.3,185.5 1253.4,185.7 1254.6,186.0 1255.7,186.2 1256.8,186.4 1258.0,186.7 1259.1,186.9 1260.3,187.1 1261.4,187.2 1262.5,187.4 1263.7,187.6 1264.8,187.7 1265.9,187.9 1267.1,188.0 1268.2,188.2 1269.3,188.3 1270.5,188.4 1271.6,188.5 1272.7,188.6 1273.9,188.7 1275.0,188.9 1276.1,189.0 1277.3,189.1 1278.4,189.2 1279.5,189.3 1280.7,189.5 1281.8,189.6 1282.9,189.8 1284.1,189.9 1285.2,190.1 1286.4,190.3 1287.5,190.5 1288.6,190.7 1289.8,190.9 1290.9,191.2 1292.0,191.6 1293.2,192.1 1294.3,192.5 1295.4,192.9 1296.6,193.3 1297.7,193.6 1298.8,193.8 1300.0,194.0 1301.1,194.2 1302.2,194.4 1303.4,194.6 1304.5,194.7 1305.6,194.9 1306.8,195.0 1307.9,195.1 1309.1,195.3 1310.2,195.4 1311.3,195.5 1312.5,195.7 1313.6,195.8 1314.7,195.9 1315.9,196.0 1317.0,196.1 1318.1,196.3 1319.3,196.4 1320.4,196.5 1321.5,196.7 1322.7,196.8 1323.8,196.9 1324.9,197.1 1326.1,197.2 1327.2,197.4 1328.3,197.5 1329.5,197.6 1330.6,197.8 1331.7,197.9 1332.9,198.0 1334.0,198.1 1335.2,198.3 1336.3,198.4 1337.4,198.5 1338.6,198.7 1339.7,198.8 1340.8,199.0 1342.0,199.1 1343.1,199.3 1344.2,199.4 1345.4,199.6 1346.5,199.8 1347.6,199.9 1348.8,200.1 1349.9,200.3 1351.0,200.5 1352.2,200.7 1353.3,201.0 1354.4,201.3 1355.6,201.6 1356.7,201.9 1357.9,202.3 1359.0,202.7 1360.1,203.1 1361.3,203.4 1362.4,203.7 1363.5,204.0 1364.7,204.3 1365.8,204.6 1366.9,204.8 1368.1,205.1 1369.2,205.3 1370.3,205.6 1371.5,205.8 1372.6,206.0 1373.7,206.3 1374.9,206.5 1376.0,206.7 1377.1,206.9 1378.3,207.1 1379.4,207.3 1380.5,207.5 1381.7,207.7 1382.8,207.9 1384.0,208.0 1385.1,208.2 1386.2,208.3 1387.4,208.5 1388.5,208.6 1389.6,208.7 1390.8,208.9 1391.9,209.1 1393.0,209.3 1394.2,209.5 1395.3,209.7 1396.4,209.9 1397.6,210.1 1398.7,210.3 1399.8,210.5 1401.0,210.7 1402.1,210.9 1403.2,211.0 1404.4,211.2 1405.5,211.4 1406.7,211.5 1407.8,211.7 1408.9,211.8 1410.1,212.0 1411.2,212.1 1412.3,212.3 1413.5,212.4 1414.6,212.5 1415.7,212.7 1416.9,212.8 1418.0,212.9 1419.1,213.1 1420.3,213.2 1421.4,213.3 1422.5,213.4 1423.7,213.5 1424.8,213.7 1425.9,213.8 1427.1,213.9 1428.2,214.0 1429.3,214.1 1430.5,214.2 1431.6,214.3 1432.8,214.4 1433.9,214.4 1435.0,214.5 1436.2,214.6 1437.3,214.7 1438.4,214.7 1439.6,214.8 1440.7,214.9 1441.8,215.0 1443.0,215.1 1444.1,215.2 1445.2,215.3 1446.4,215.5 1447.5,215.7 1448.6,216.0 1449.8,216.3 1450.9,216.6 1452.0,216.9 1453.2,217.2 1454.3,217.6 1455.5,217.9 1456.6,218.3 1457.7,218.6 1458.9,218.9 1460.0,219.3 1461.1,219.6 1462.3,219.9 1463.4,220.1 1464.5,220.4 1465.7,220.6 1466.8,220.7 1467.9,220.9 1469.1,221.0 1470.2,221.1 1471.3,221.2 1472.5,221.3 1473.6,221.5 1474.7,221.6 1475.9,221.7 1477.0,221.8 1478.1,222.0 1479.3,222.2 1480.4,222.4 1481.6,222.6 1482.7,222.9 1483.8,223.2 1485.0,223.5 1486.1,223.8 1487.2,224.1 1488.4,224.4 1489.5,224.7 1490.6,225.0 1491.8,225.3 1492.9,225.6 1494.0,225.9 1495.2,226.1 1496.3,226.4 1497.4,226.6 1498.6,226.8 1499.7,227.0 1500.8,227.2 1502.0,227.3 1503.1,227.5 1504.3,227.6 1505.4,227.8 1506.5,227.9 1507.7,228.1 1508.8,228.2 1509.9,228.3 1511.1,228.4 1512.2,228.6 1513.3,228.7 1514.5,228.8 1515.6,228.9 1516.7,229.0 1517.9,229.2 1519.0,229.3 1520.1,229.4 1521.3,229.6 1522.4,229.7 1523.5,229.8 1524.7,230.0 1525.8,230.1 1526.9,230.3 1528.1,230.4 1529.2,230.6 1530.4,230.8 1531.5,230.9 1532.6,231.1 1533.8,231.2 1534.9,231.4 1536.0,231.6 1537.2,231.8 1538.3,231.9 1539.4,232.1 1540.6,232.3 1541.7,232.4 1542.8,232.6 1544.0,232.8 1545.1,233.0 1546.2,233.2 1547.4,233.3 1548.5,233.5 1549.6,233.7 1550.8,233.9 1551.9,234.1 1553.1,234.3 1554.2,234.4 1555.3,234.6 1556.5,234.8 1557.6,235.0 1558.7,235.2 1559.9,235.4 1561.0,235.6 1562.1,235.8 1563.3,236.0 1564.4,236.2 1565.5,236.4 1566.7,236.7 1567.8,237.0 1568.9,237.3 1570.1,237.6 1571.2,237.9 1572.3,238.3 1573.5,238.6 1574.6,239.0 1575.8,239.4 1576.9,239.7 1578.0,240.1 1579.2,240.4 1580.3,240.8 1581.4,241.1 1582.6,241.4 1583.7,241.7 1584.8,242.0 1586.0,242.3 1587.1,242.6 1588.2,242.9 1589.4,243.1 1590.5,243.4 1591.6,243.7 1592.8,244.0 1593.9,244.2 1595.0,244.5 1596.2,244.7 1597.3,245.0 1598.4,245.2 1599.6,245.5 1600.7,245.7 1601.9,245.9 1603.0,246.1 1604.1,246.3 1605.3,246.5 1606.4,246.7 1607.5,246.8 1608.7,247.0 1609.8,247.1 1610.9,247.2 1612.1,247.4 1613.2,247.5 1614.3,247.7 1615.5,247.9 1616.6,248.1 1617.7,248.3 1618.9,248.5 1620.0,248.8 1621.1,249.2 1622.3,249.7 1623.4,250.3 1624.6,251.0 1625.7,251.7 1626.8,252.3 1628.0,252.9 1629.1,253.4 1630.2,253.8 1631.4,254.1 1632.5,254.4 1633.6,254.7 1634.8,255.0 1635.9,255.2 1637.0,255.5 1638.2,255.7 1639.3,256.0 1640.4,256.2 1641.6,256.4 1642.7,256.6 1643.8,256.8 1645.0,257.0 1646.1,257.2 1647.2,257.4 1648.4,257.6 1649.5,257.8 1650.7,258.0 1651.8,258.2 1652.9,258.4 1654.1,258.6 1655.2,258.8 1656.3,259.0 1657.5,259.2 1658.6,259.4 1659.7,259.6 1660.9,259.8 1662.0,260.0 1663.1,260.2 1664.3,260.4 1665.4,260.6 1666.5,260.8 1667.7,261.0 1668.8,261.2 1669.9,261.4 1671.1,261.6 1672.2,261.9 1673.4,262.2 1674.5,262.4 1675.6,262.8 1676.8,263.1 1677.9,263.4 1679.0,263.8 1680.2,264.2 1681.3,264.6 1682.4,265.0 1683.6,265.5 1684.7,266.0 1685.8,266.6 1687.0,267.3 1688.1,268.1 1689.2,268.9 1690.4,269.8 1691.5,270.6 1692.6,271.5 1693.8,272.3 1694.9,273.1 1696.0,273.8 1697.2,274.5 1698.3,275.2 1699.5,275.9 1700.6,276.6 1701.7,277.3 1702.9,278.0 1704.0,278.6 1705.1,279.2 1706.3,279.8 1707.4,280.3 1708.5,280.7 1709.7,281.1 1710.8,281.5 1711.9,281.9 1713.1,282.3 1714.2,282.7 1715.3,283.3 1716.5,283.9 1717.6,284.6 1718.7,285.5 1719.9,286.4 1721.0,287.5 1722.2,288.7 1723.3,290.0 1724.4,291.5 1725.6,293.5 1726.7,295.6 1727.8,297.7 1729.0,299.4 1730.1,300.5 1731.2,302.0 1732.4,309.0 1733.5,330.7" fill="none" stroke="#1f8a1f" stroke-width="1.5"/>
<rect x="1019.8" y="38.9" width="747.7" height="310.1" fill="none" stroke="#000" stroke-width="1.45"/>
<line x1="1053.9" y1="349.0" x2="1053.9" y2="355.0" stroke="#000" stroke-width="1.3"/>
<text x="1053.5" y="377.0" text-anchor="middle" class="tk">0</text>
<line x1="1190.0" y1="349.0" x2="1190.0" y2="355.0" stroke="#000" stroke-width="1.3"/>
<text x="1189.6" y="377.0" text-anchor="middle" class="tk">200</text>
<line x1="1326.1" y1="349.0" x2="1326.1" y2="355.0" stroke="#000" stroke-width="1.3"/>
<text x="1325.7" y="377.0" text-anchor="middle" class="tk">400</text>
<line x1="1462.3" y1="349.0" x2="1462.3" y2="355.0" stroke="#000" stroke-width="1.3"/>
<text x="1461.9" y="377.0" text-anchor="middle" class="tk">600</text>
<line x1="1598.4" y1="349.0" x2="1598.4" y2="355.0" stroke="#000" stroke-width="1.3"/>
<text x="1598.0" y="377.0" text-anchor="middle" class="tk">800</text>
<line x1="1734.5" y1="349.0" x2="1734.5" y2="355.0" stroke="#000" stroke-width="1.3"/>
<text x="1734.1" y="377.0" text-anchor="middle" class="tk">1000</text>
<line x1="1013.8" y1="52.0" x2="1019.8" y2="52.0" stroke="#000" stroke-width="1.3"/>
<text x="1008.0" y="60.8" text-anchor="end" class="tk">0.80</text>
<line x1="1013.8" y1="93.4" x2="1019.8" y2="93.4" stroke="#000" stroke-width="1.3"/>
<text x="1008.0" y="102.1" text-anchor="end" class="tk">0.75</text>
<line x1="1013.8" y1="134.8" x2="1019.8" y2="134.8" stroke="#000" stroke-width="1.3"/>
<text x="1008.0" y="143.5" text-anchor="end" class="tk">0.70</text>
<line x1="1013.8" y1="176.1" x2="1019.8" y2="176.1" stroke="#000" stroke-width="1.3"/>
<text x="1008.0" y="184.8" text-anchor="end" class="tk">0.65</text>
<line x1="1013.8" y1="217.5" x2="1019.8" y2="217.5" stroke="#000" stroke-width="1.3"/>
<text x="1008.0" y="226.2" text-anchor="end" class="tk">0.60</text>
<line x1="1013.8" y1="258.8" x2="1019.8" y2="258.8" stroke="#000" stroke-width="1.3"/>
<text x="1008.0" y="267.5" text-anchor="end" class="tk">0.55</text>
<line x1="1013.8" y1="300.2" x2="1019.8" y2="300.2" stroke="#000" stroke-width="1.3"/>
<text x="1008.0" y="308.9" text-anchor="end" class="tk">0.50</text>
<line x1="1013.8" y1="341.5" x2="1019.8" y2="341.5" stroke="#000" stroke-width="1.3"/>
<text x="1008.0" y="350.2" text-anchor="end" class="tk">0.45</text>
<text x="1393.7" y="22.5" text-anchor="middle" class="lb">Spatial Memorability</text>
<text x="1393.7" y="418.1" text-anchor="middle" class="lb">Image Pair</text>
<text transform="translate(937.4,194.3) rotate(-90)" x="0" y="0" text-anchor="middle" class="lb">Memorability (via AMNet)</text>
<rect x="1558.9" y="50.2" width="196.7" height="72.9" rx="4" fill="#fff" fill-opacity="0.8" stroke="#cccccc" stroke-width="1.2"/>
<line x1="1567.9" y1="68.5" x2="1613.9" y2="68.5" stroke="#6e6e6e" stroke-width="1.5" stroke-dasharray="5.55 2.5"/>
<line x1="1567.1" y1="102.2" x2="1614.1" y2="102.2" stroke="#1f8a1f" stroke-width="1.6"/>
<text x="1631.5" y="76.4" class="lg">No Effect</text>
<text x="1631.5" y="109.7" class="lg">High Mem</text>
</svg>
<div class="cap" style="left:34.0px;top:441.55px"><b>a)</b><span class="sp"> </span>AMNet prediction results for 2,000 images (1,000 highly</div>
<div class="cap" style="left:34.0px;top:476.65px">memorable and 1,000 with low intended memorability),</div>
<div class="cap" style="left:34.0px;top:511.35px">generated by considering the same <b>Z</b> code but with low and</div>
<div class="cap" style="left:34.0px;top:546.05px">high memorability constraints, respectively. Significant</div>
<div class="cap" style="left:34.0px;top:584.75px">difference in predicted memorability, (<i>p</i>&#8201;<span class="rel">&lt;</span>&#8201;0.01, One-way</div>
<div class="cap" style="left:34.0px;top:619.35px">independent ANOVA, Mann-Whitney U) with an effect size of</div>
<div class="cap" style="left:34.0px;top:654.15px">0.19 (Cohens D)</div>
<div class="cap" style="left:1001.0px;top:480.55px"><b>b)</b><span class="sp"> </span>Comparing high/low memorability pairs of images,</div>
<div class="cap" style="left:1001.0px;top:514.55px">generated with a spatial memorability constraint. Significant</div>
<div class="cap" style="left:1001.0px;top:552.75px">difference in spatially-constrained memorability, (<i>p</i>&#8201;<span class="rel">&lt;</span>&#8201;0.01,</div>
<div class="cap" style="left:1001.0px;top:587.55px">One-way independent ANOVA, Mann-Whitney U) with an</div>
<div class="cap" style="left:1001.0px;top:622.35px">effect size of 0.15 (Cohens D)</div>
</body></html>
